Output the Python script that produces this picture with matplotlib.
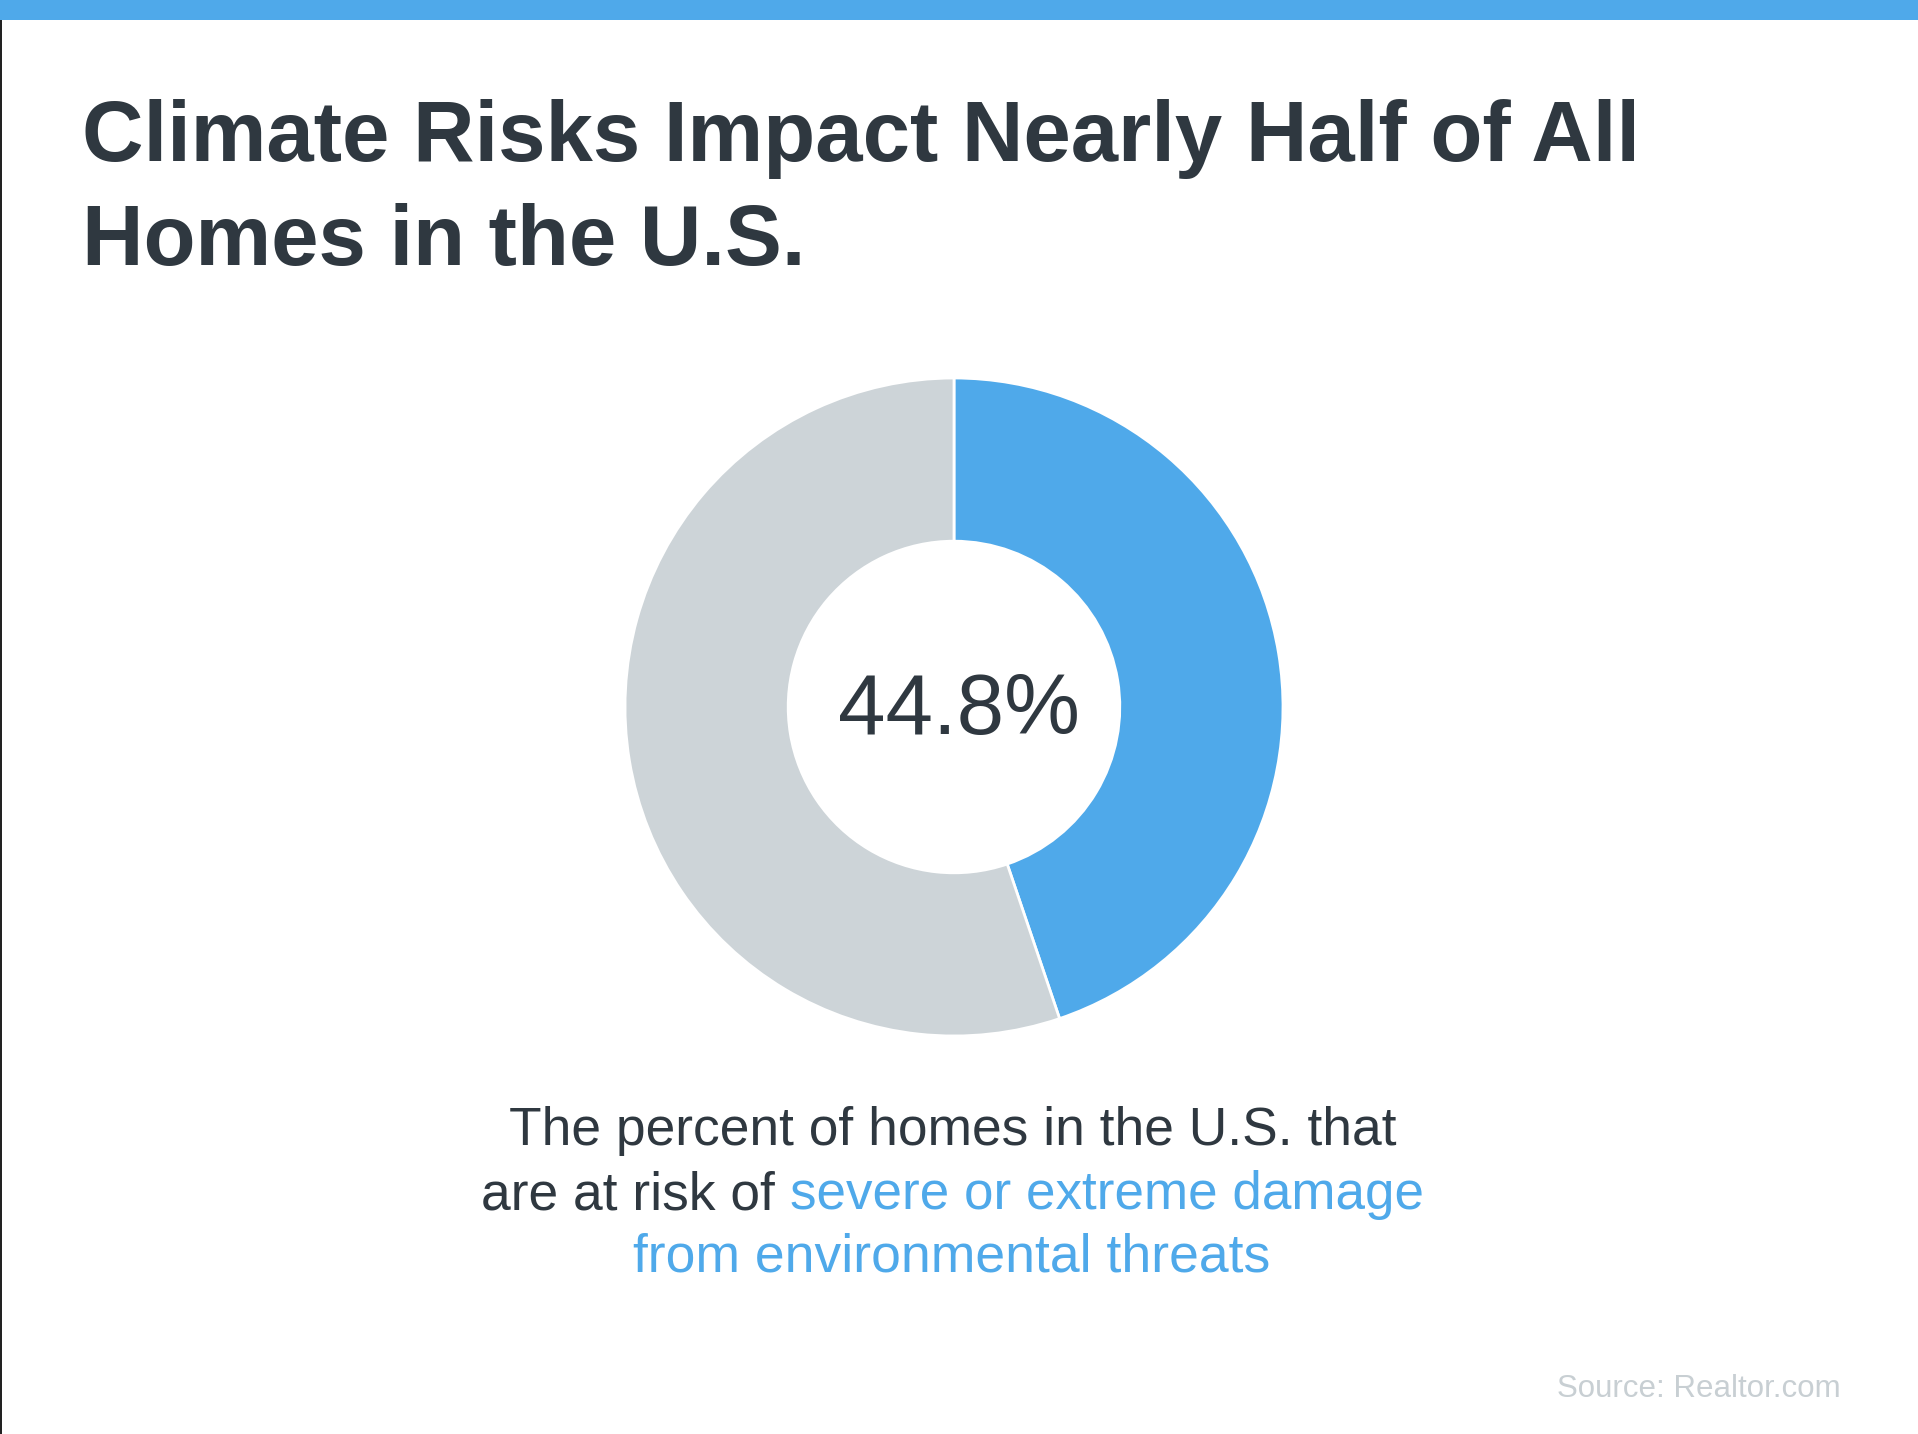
import matplotlib
matplotlib.use('Agg')
import matplotlib.pyplot as plt
from matplotlib.patches import Rectangle

# Datos
valores = [44.8, 55.2]
colores = ['#4FA9EA', '#CDD4D8']
titulo = ['Climate Risks Impact Nearly Half of All', 'Homes in the U.S.']
centro = '44.8%'
fuente = 'Source: Realtor.com'

W, H = 1918, 1434
oscuro = '#2F3840'
azul = '#4FA9EA'

plt.rcParams['font.family'] = ['Liberation Sans', 'DejaVu Sans']

fig = plt.figure(figsize=(W / 100, H / 100), dpi=100, facecolor='white')

# fondo en pixeles
bg = fig.add_axes([0, 0, 1, 1])
bg.set_xlim(0, W)
bg.set_ylim(H, 0)
bg.axis('off')
bg.add_patch(Rectangle((0, 0), 1.5, H, color='#222222', lw=0))
bg.add_patch(Rectangle((0, 0), W, 20, color=azul, lw=0))

# titulo
bg.text(82, 139, titulo[0], fontsize=61.3, fontweight='bold', color=oscuro, va='center', ha='left')
bg.text(82, 243, titulo[1], fontsize=61.3, fontweight='bold', color=oscuro, va='center', ha='left')

# dona
cx, cy, r = 954, 707, 329
ax = fig.add_axes([(cx - r) / W, 1 - (cy + r) / H, 2 * r / W, 2 * r / H])
ax.pie(valores, colors=colores, startangle=90, counterclock=False, radius=1,
       wedgeprops=dict(width=0.496, edgecolor='white', linewidth=2))
ax.set_xlim(-1, 1)
ax.set_ylim(-1, 1)
ax.text(0.015, -0.015, centro, fontsize=61.5, color=oscuro, ha='center', va='center')

# texto de abajo
bg.text(953, 1131, 'The percent of homes in the U.S. that', fontsize=38.4, color=oscuro, ha='center', va='center')
bg.text(481, 1195, 'are at risk of', fontsize=38.4, color=oscuro, ha='left', va='center')
bg.text(790, 1195, 'severe or extreme damage', fontsize=38.2, color=azul, ha='left', va='center')
bg.text(952, 1258, 'from environmental threats', fontsize=38.5, color=azul, ha='center', va='center')

# fuente
bg.text(1841, 1389, fuente, fontsize=22.5, color='#C8CFD3', ha='right', va='center')

fig.savefig('out.png', dpi=100)
